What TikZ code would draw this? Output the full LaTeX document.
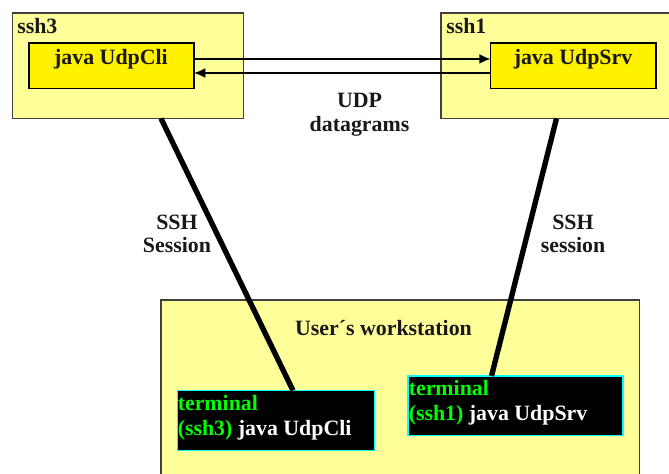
\documentclass[tikz,border=0pt]{standalone}
\usepackage{fontspec}
\setmainfont{Liberation Serif}
\usetikzlibrary{arrows.meta}
\definecolor{paleyel}{RGB}{255,255,153}
\definecolor{termgreen}{RGB}{0,255,0}
\definecolor{termcyan}{RGB}{0,255,255}
\tikzset{
  box/.style={draw=black!75,line width=0.8pt,fill=paleyel},
  prog/.style={draw=black,line width=0.9pt,fill=yellow,inner sep=0pt,outer sep=0pt},
  term/.style={draw=termcyan,line width=0.8pt,fill=black,inner sep=0pt,outer sep=0pt},
  label/.style={inner sep=0pt,font=\fontsize{16.4}{18}\selectfont\bfseries,text=black!90,align=center},
  link/.style={line width=1.25pt,-{Latex[length=8.5pt,width=7.5pt]}},
  sess/.style={line width=4pt,black}
}
\begin{document}
\begin{tikzpicture}[x=0.75pt,y=-0.75pt]
\useasboundingbox (0,0) rectangle (669,474);
% hosts
\draw[box] (441,13) rectangle (680,118.5);
\draw[box] (161,300) rectangle (639.5,490);
\draw[box] (12.5,13) rectangle (243.5,118.5);
% programs
\node[prog,minimum width=123.75pt,minimum height=34.1pt] (cli) at (111.5,65.75) {};
\node[prog,minimum width=124pt,minimum height=34.1pt] (srv) at (573.25,65.75) {};
\node[label,anchor=base west] (ssh3t) at (17,33.5) {ssh3};
\node[label,anchor=base west] (ssh1t) at (446,33.5) {ssh1};
\node[label,anchor=base] (clit) at (111,64.5) {java UdpCli};
\node[label,anchor=base] (srvt) at (573,64.5) {java UdpSrv};
% terminals
\node[term,minimum width=148pt,minimum height=45pt] (t3) at (276.25,420.5) {};
\node[term,minimum width=161.25pt,minimum height=44.6pt] (t1) at (515.5,405.75) {};
% connectors
\draw[link] ([yshift=5.1pt]cli.east) -- ([yshift=5.1pt]srv.west);
\draw[link] ([yshift=-5.44pt]srv.west) -- ([yshift=-5.44pt]cli.east);
\coordinate (a3) at (161,118.5);
\coordinate (a1) at (556.5,118.5);
\coordinate (b3) at (293,390.5);
\coordinate (b1) at (491.5,376);
\draw[sess] (a3) -- (b3);
\draw[sess] (a1) -- (b1);
% labels
\node[label,anchor=base] (udp) at (359.5,108) {UDP};
\node[label,anchor=base] (udp2) at (359.5,131.5) {datagrams};
\node[label,anchor=base] (s3) at (177,230) {SSH};
\node[label,anchor=base] (s3b) at (177,253) {Session};
\node[label,anchor=base] (s1) at (573,230) {SSH};
\node[label,anchor=base] (s1b) at (573,253) {session};
\node[label,anchor=base] (ws) at (383.5,335.5) {User´s workstation};
\node[label,anchor=base west,text=termgreen] (t3a) at (177.5,411) {terminal};
\node[label,anchor=base west,text=termgreen] (t3b) at (177.5,436) {(ssh3) \textcolor{white}{java UdpCli}};
\node[label,anchor=base west,text=termgreen] (t1a) at (408.5,396) {terminal};
\node[label,anchor=base west,text=termgreen] (t1b) at (408.5,420.5) {(ssh1) \textcolor{white}{java UdpSrv}};
\end{tikzpicture}
\end{document}
